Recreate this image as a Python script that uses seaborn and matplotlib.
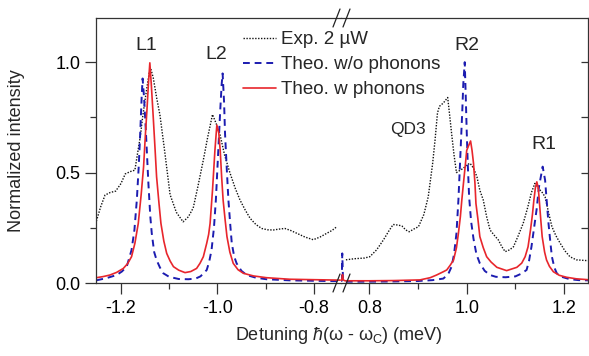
import numpy as np
import pandas as pd
import matplotlib
matplotlib.use("Agg")
import matplotlib.pyplot as plt
from matplotlib.lines import Line2D
from matplotlib.ticker import MultipleLocator
import seaborn as sns

# ---------------- data ----------------
# Experiment, left segment
exp_left_x = [-1.251, -1.242, -1.233, -1.222, -1.211, -1.200, -1.191, -1.180, -1.171, -1.166,
              -1.160, -1.155, -1.150, -1.145, -1.141, -1.138, -1.133, -1.126, -1.119, -1.110,
              -1.098, -1.085, -1.071, -1.060, -1.050, -1.040, -1.029, -1.020, -1.010, -1.002,
              -0.994, -0.985, -0.974, -0.963, -0.953, -0.942, -0.932, -0.920, -0.908, -0.896,
              -0.884, -0.872, -0.860, -0.848, -0.835, -0.818, -0.801, -0.787, -0.773, -0.762, -0.752]
exp_left_y = [0.280, 0.345, 0.398, 0.410, 0.416, 0.450, 0.494, 0.505, 0.511, 0.580,
              0.660, 0.750, 0.828, 0.900, 0.955, 0.970, 0.930, 0.840, 0.760, 0.610,
              0.400, 0.320, 0.277, 0.300, 0.340, 0.440, 0.557, 0.660, 0.763, 0.720,
              0.668, 0.580, 0.500, 0.430, 0.376, 0.330, 0.293, 0.265, 0.247, 0.241,
              0.240, 0.244, 0.247, 0.238, 0.225, 0.208, 0.196, 0.208, 0.225, 0.238, 0.255]

# Experiment, right segment
exp_right_x = [0.752, 0.770, 0.790, 0.801, 0.815, 0.829, 0.840, 0.849, 0.860, 0.867,
               0.875, 0.882, 0.892, 0.901, 0.912, 0.921, 0.930, 0.935, 0.940, 0.944,
               0.952, 0.961, 0.965, 0.969, 0.974, 0.979, 0.986, 0.993, 1.000, 1.007,
               1.014, 1.021, 1.027, 1.034, 1.041, 1.048, 1.057, 1.065, 1.072, 1.079,
               1.088, 1.096, 1.106, 1.116, 1.125, 1.133, 1.140, 1.147, 1.155, 1.161,
               1.168, 1.175, 1.183, 1.192, 1.202, 1.212, 1.225, 1.249]
exp_right_y = [0.105, 0.110, 0.113, 0.119, 0.150, 0.195, 0.235, 0.265, 0.262, 0.258,
               0.240, 0.232, 0.245, 0.255, 0.310, 0.390, 0.540, 0.647, 0.770, 0.800,
               0.815, 0.840, 0.760, 0.677, 0.580, 0.500, 0.510, 0.519, 0.535, 0.542,
               0.520, 0.481, 0.420, 0.376, 0.300, 0.240, 0.215, 0.195, 0.165, 0.142,
               0.150, 0.164, 0.215, 0.270, 0.340, 0.410, 0.451, 0.430, 0.410, 0.390,
               0.320, 0.255, 0.215, 0.180, 0.145, 0.119, 0.105, 0.101]

# Theory without phonons, left segment
nophon_left_x = [-1.251, -1.230, -1.209, -1.198, -1.188, -1.178, -1.172, -1.167, -1.163, -1.160,
                 -1.157, -1.155, -1.152, -1.148, -1.143, -1.139, -1.136, -1.131, -1.126, -1.119,
                 -1.112, -1.100, -1.080, -1.060, -1.045, -1.035, -1.028, -1.022, -1.017, -1.012,
                 -1.007, -1.003, -0.998, -0.994, -0.991, -0.989, -0.986, -0.984, -0.980, -0.977,
                 -0.973, -0.970, -0.965, -0.960, -0.950, -0.939, -0.920, -0.898, -0.850, -0.800, -0.745]
nophon_left_y = [0.012, 0.022, 0.036, 0.052, 0.074, 0.149, 0.240, 0.376, 0.530, 0.677,
                 0.840, 0.926, 0.840, 0.677, 0.451, 0.300, 0.225, 0.140, 0.104, 0.070,
                 0.044, 0.028, 0.018, 0.017, 0.020, 0.030, 0.045, 0.059, 0.095, 0.149,
                 0.250, 0.376, 0.600, 0.780, 0.900, 0.949, 0.820, 0.677, 0.500, 0.376,
                 0.260, 0.180, 0.120, 0.089, 0.055, 0.036, 0.024, 0.017, 0.012, 0.010, 0.008]

# Theory without phonons, right segment
nophon_right_x = [0.742, 0.7435, 0.7445, 0.7460, 0.750, 0.800, 0.850, 0.900, 0.930, 0.952,
                  0.962, 0.969, 0.974, 0.979, 0.983, 0.986, 0.989, 0.991, 0.993, 0.996,
                  0.998, 1.000, 1.002, 1.005, 1.009, 1.014, 1.020, 1.027, 1.037, 1.048,
                  1.060, 1.080, 1.100, 1.112, 1.123, 1.128, 1.133, 1.139, 1.144, 1.148,
                  1.151, 1.156, 1.161, 1.164, 1.168, 1.172, 1.175, 1.180, 1.185, 1.195,
                  1.212, 1.230, 1.249]
nophon_right_y = [0.010, 0.010, 0.134, 0.012, 0.006, 0.006, 0.007, 0.009, 0.013, 0.020,
                  0.040, 0.074, 0.130, 0.225, 0.376, 0.526, 0.680, 0.783, 0.900, 1.000,
                  0.850, 0.690, 0.550, 0.390, 0.280, 0.200, 0.130, 0.089, 0.055, 0.036,
                  0.028, 0.026, 0.030, 0.042, 0.059, 0.100, 0.164, 0.260, 0.340, 0.430,
                  0.466, 0.527, 0.466, 0.380, 0.270, 0.180, 0.119, 0.070, 0.044, 0.028,
                  0.017, 0.013, 0.012]

# Theory with phonons, left segment
phon_left_x = [-1.251, -1.237, -1.223, -1.209, -1.195, -1.186, -1.178, -1.171, -1.164, -1.158,
               -1.153, -1.149, -1.146, -1.143, -1.140, -1.137, -1.133, -1.129, -1.126, -1.121,
               -1.117, -1.111, -1.105, -1.098, -1.091, -1.080, -1.067, -1.055, -1.043, -1.036,
               -1.029, -1.022, -1.018, -1.015, -1.010, -1.005, -1.001, -0.997, -0.994, -0.991,
               -0.988, -0.984, -0.980, -0.974, -0.967, -0.957, -0.946, -0.925, -0.898, -0.850,
               -0.800, -0.745]
phon_left_y = [0.024, 0.029, 0.036, 0.048, 0.066, 0.088, 0.119, 0.180, 0.270, 0.400,
               0.526, 0.680, 0.783, 0.900, 0.997, 0.900, 0.753, 0.600, 0.481, 0.360,
               0.270, 0.190, 0.134, 0.100, 0.074, 0.058, 0.047, 0.052, 0.066, 0.089,
               0.119, 0.180, 0.220, 0.270, 0.420, 0.600, 0.715, 0.680, 0.600, 0.480,
               0.376, 0.290, 0.210, 0.140, 0.089, 0.060, 0.044, 0.032, 0.024, 0.017,
               0.015, 0.013]

# Theory with phonons, right segment
phon_right_x = [0.742, 0.7435, 0.7450, 0.7465, 0.750, 0.800, 0.850, 0.904, 0.925, 0.938,
                0.952, 0.959, 0.966, 0.973, 0.979, 0.983, 0.987, 0.990, 0.994, 0.997,
                1.000, 1.003, 1.008, 1.011, 1.014, 1.017, 1.019, 1.023, 1.027, 1.034,
                1.041, 1.050, 1.062, 1.082, 1.103, 1.113, 1.120, 1.126, 1.131, 1.135,
                1.138, 1.141, 1.144, 1.147, 1.149, 1.152, 1.155, 1.160, 1.164, 1.170,
                1.178, 1.190, 1.205, 1.225, 1.249]
phon_right_y = [0.012, 0.014, 0.038, 0.014, 0.010, 0.010, 0.011, 0.014, 0.024, 0.036,
                0.051, 0.059, 0.080, 0.104, 0.160, 0.225, 0.300, 0.376, 0.466, 0.530,
                0.600, 0.617, 0.643, 0.600, 0.542, 0.450, 0.360, 0.290, 0.210, 0.160,
                0.119, 0.095, 0.071, 0.056, 0.071, 0.090, 0.119, 0.164, 0.240, 0.310,
                0.376, 0.430, 0.458, 0.430, 0.376, 0.290, 0.210, 0.140, 0.104, 0.075,
                0.051, 0.035, 0.026, 0.019, 0.015]

left_ticks = [-1.2, -1.0, -0.8]
right_ticks = [0.8, 1.0, 1.2]
left_tick_labels = ["-1.2", "-1.0", "-0.8"]
right_tick_labels = ["0.8", "1.0", "1.2"]
y_ticks = [0.0, 0.5, 1.0]
y_tick_labels = ["0.0", "0.5", "1.0"]

legend_labels = ["Exp. 2 \u00b5W", "Theo. w/o phonons", "Theo. w phonons"]
peak_labels = ["L1", "L2", "R2", "R1", "QD3"]

# ---------------- style ----------------
sns.set_style("ticks")
plt.rcParams['font.family'] = ['Liberation Sans', 'DejaVu Sans']
plt.rcParams['mathtext.fontset'] = 'custom'
plt.rcParams['mathtext.rm'] = 'Liberation Sans'
plt.rcParams['mathtext.it'] = 'Liberation Sans:italic'
plt.rcParams['axes.linewidth'] = 0.9
plt.rcParams['axes.edgecolor'] = '#333333'

C_EXP = '#111111'
C_NOPH = '#1c1cb0'
C_PH = '#e8262c'
FS_TICK = 13
FS_LAB = 13
FS_LEG = 13.5

W, H = 589, 356
fig = plt.figure(figsize=(W / 100, H / 100), dpi=100)
x0, xb, x1 = 96, 341, 588
ytop, ybot = 18, 283
axL = fig.add_axes([x0 / W, 1 - ybot / H, (xb - x0) / W, (ybot - ytop) / H])
axR = fig.add_axes([xb / W, 1 - ybot / H, (x1 - xb) / W, (ybot - ytop) / H])

def seg(ax, xs, ys, color, ls, lw, label=None):
    df = pd.DataFrame({"x": xs, "y": ys})
    sns.lineplot(data=df, x="x", y="y", ax=ax, color=color, linestyle=ls,
                 linewidth=lw, estimator=None, sort=False, label=label, legend=False)

dot = (0, (1, 1.1))
dash = (0, (3.5, 2.5))
seg(axL, exp_left_x, exp_left_y, C_EXP, dot, 1.0, legend_labels[0])
seg(axL, nophon_left_x, nophon_left_y, C_NOPH, dash, 1.4, legend_labels[1])
seg(axL, phon_left_x, phon_left_y, C_PH, '-', 1.2, legend_labels[2])
seg(axR, exp_right_x, exp_right_y, C_EXP, dot, 1.0)
seg(axR, nophon_right_x, nophon_right_y, C_NOPH, dash, 1.4)
seg(axR, phon_right_x, phon_right_y, C_PH, '-', 1.2)

axL.set_xlim(-1.2517, -0.7434)
axR.set_xlim(0.7419, 1.2491)
for ax in (axL, axR):
    ax.set_ylim(0, 1.2)
    ax.set_xlabel("")
    ax.set_ylabel("")
    ax.xaxis.set_minor_locator(MultipleLocator(0.1))
    ax.tick_params(axis='x', which='major', direction='out', length=8, width=0.9,
                   labelsize=FS_TICK, pad=4, colors='#333333', labelcolor='black')
    ax.tick_params(axis='x', which='minor', direction='out', length=4, width=0.9,
                   colors='#333333')

axL.set_xticks(left_ticks)
axL.set_xticklabels(left_tick_labels)
axR.set_xticks(right_ticks)
axR.set_xticklabels(right_tick_labels)

axL.set_yticks(y_ticks)
axL.set_yticklabels(y_tick_labels)
axL.yaxis.set_minor_locator(MultipleLocator(0.25))
axL.tick_params(axis='y', which='major', direction='out', length=8, width=0.9,
                labelsize=FS_TICK, pad=3, colors='#333333', labelcolor='black')
axL.tick_params(axis='y', which='minor', direction='out', length=4.5, width=0.9,
                colors='#333333')
axL.spines['right'].set_visible(False)

axR.spines['left'].set_visible(False)
axR.yaxis.tick_right()
axR.set_yticks([0.25, 0.5, 0.75, 1.0])
axR.tick_params(axis='y', which='major', direction='in', length=5, width=0.9,
                labelright=False, labelleft=False, left=False, colors='#333333')
axR.yaxis.set_minor_locator(plt.NullLocator())

# axis break marks
for yc in (ytop, ybot):
    for dx in (0, 10):
        fig.add_artist(Line2D([(333 + dx) / W, (340 + dx) / W],
                              [1 - (yc + 9) / H, 1 - (yc - 9) / H],
                              color='#222222', lw=0.9, transform=fig.transFigure))

# axis labels
fig.text(17 / W, 1 - 151 / H, "Normalized intensity", rotation=90, ha='center', va='center',
         fontsize=FS_LAB)
fig.text(339 / W, 1 - 335 / H,
         "Detuning $\\hbar$(\u03c9 - \u03c9$_{\\mathrm{C}}$) (meV)",
         ha='center', va='center', fontsize=FS_LAB)

# peak labels
axL.text(-1.148, 1.077, peak_labels[0], ha='center', va='center', fontsize=14)
axL.text(-1.003, 1.036, peak_labels[1], ha='center', va='center', fontsize=14)
axR.text(1.000, 1.077, peak_labels[2], ha='center', va='center', fontsize=14)
axR.text(1.158, 0.625, peak_labels[3], ha='center', va='center', fontsize=14)
axR.text(0.879, 0.695, peak_labels[4], ha='center', va='center', fontsize=12.5)

# legend
handles = axL.get_lines()[:3]
fig.legend(handles, legend_labels, loc='upper left',
           bbox_to_anchor=(243 / W, 1 - 31 / H), frameon=False, fontsize=FS_LEG,
           handlelength=1.75, handletextpad=0.3, labelspacing=0.42,
           borderpad=0, borderaxespad=0)

fig.savefig("out.png", dpi=100)
